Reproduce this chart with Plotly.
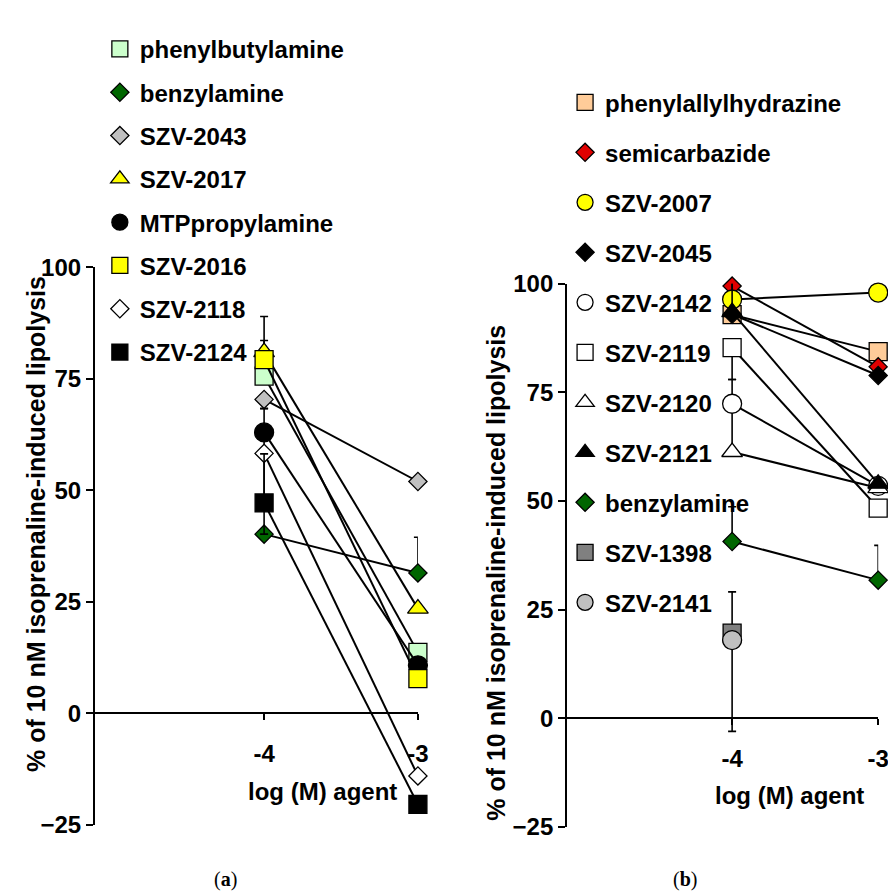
import plotly.graph_objects as go

# ---------------- data ----------------
x_vals = [-4, -3]

# panel (a)
a_names = ["phenylbutylamine", "benzylamine", "SZV-2043", "SZV-2017",
           "MTPpropylamine", "SZV-2016", "SZV-2118", "SZV-2124"]
a_y = [
    [75.6, 13.7],
    [40.2, 31.5],
    [70.4, 52.0],
    [81.0, 23.5],
    [63.0, 10.8],
    [79.3, 7.8],
    [58.3, -14.0],
    [47.2, -20.4],
]
a_err_plus = [[8.0, 0], [0, 8.0], [0, 0], [8.0, 0], [5.3, 0], [0, 0], [0, 0], [11.0, 0]]
a_err_minus = [[0, 0], [0, 0], [2.0, 0], [0, 0], [4.7, 0], [0, 0], [11.0, 0], [7.0, 0]]
a_symbols = ["square", "diamond", "diamond", "triangle-up", "circle", "square", "diamond", "square"]
a_colors = ["#CCFFCC", "#006600", "#C0C0C0", "#FFFF00", "#000000", "#FFFF00", "#FFFFFF", "#000000"]

# panel (b)
b_names = ["phenylallylhydrazine", "semicarbazide", "SZV-2007", "SZV-2045", "SZV-2142",
           "SZV-2119", "SZV-2120", "SZV-2121", "benzylamine", "SZV-1398", "SZV-2141"]
b_y = [
    [92.9, 84.4],
    [99.5, 80.9],
    [96.4, 98.0],
    [93.0, 78.9],
    [72.4, 53.5],
    [85.3, 48.4],
    [61.3, 53.0],
    [93.5, 54.0],
    [40.7, 31.8],
    [19.6, None],
    [18.0, None],
]
b_err_plus = [[0, 0], [10.0, 0], [16.0, 10.0], [8.7, 0], [5.6, 0], [0, 0], [0, 0], [0, 0],
              [8.0, 8.0], [9.5, 0], [0, 0]]
b_err_minus = [[0, 0], [0, 0], [0, 0], [0, 0], [11.0, 0], [7.3, 0], [0, 0], [0, 0],
               [0, 0], [0, 0], [21.0, 0]]
b_symbols = ["square", "diamond", "circle", "diamond", "circle", "square",
             "triangle-up", "triangle-up", "diamond", "square", "circle"]
b_colors = ["#FFCC99", "#E00000", "#FFFF00", "#000000", "#FFFFFF", "#FFFFFF",
            "#FFFFFF", "#000000", "#006600", "#808080", "#C0C0C0"]

y_ticks = [-25, 0, 25, 50, 75, 100]
x_ticks = [-4, -3]
x_ticklabels = ["-4", "-3"]

# ---------------- layout geometry ----------------
W, H = 896, 894
FONT = "Liberation Sans, Arial, sans-serif"
FS = 24

def px_x(p):
    return p / W

def px_y(p):
    return 1 - p / H

sizes = {"square": 18, "diamond": 14, "circle": 19, "triangle-up": 18}

fig = go.Figure()

def add_panel(names, ys, ep, em, symbols, colors, xa, ya, legend):
    for i, n in enumerate(names):
        fig.add_trace(go.Scatter(
            x=x_vals, y=ys[i], mode="lines+markers", name=n,
            xaxis=xa, yaxis=ya, showlegend=False, cliponaxis=False,
            line=dict(color="black", width=2),
            marker=dict(symbol=symbols[i], size=sizes[symbols[i]], color=colors[i],
                        line=dict(color="black", width=1.3)),
            error_y=dict(type="data", symmetric=False, array=ep[i], arrayminus=em[i],
                         color="black", thickness=1.6, width=4),
        ))
    for i, n in enumerate(names):
        fig.add_trace(go.Scatter(
            x=[None], y=[None], mode="markers", name=n, legend=legend,
            legendgroup=legend + str(i), xaxis=xa, yaxis=ya,
            marker=dict(symbol=symbols[i], size=sizes[symbols[i]], color=colors[i],
                        line=dict(color="black", width=1.3)),
        ))

add_panel(a_names, a_y, a_err_plus, a_err_minus, a_symbols, a_colors, "x", "y", "legend")
add_panel(b_names, b_y, b_err_plus, b_err_minus, b_symbols, b_colors, "x2", "y2", "legend2")

bold = dict(family=FONT, size=FS, color="black", weight="bold")
title_font = dict(family=FONT, size=25, color="black", weight="bold")

def xaxis_cfg(domain, rng, pos):
    return dict(domain=domain, range=rng, anchor="free", position=pos,
                tickvals=x_ticks, ticktext=x_ticklabels, showline=True, linecolor="black",
                linewidth=2, ticks="outside", ticklen=6, tickwidth=2, tickcolor="black",
                showgrid=False, zeroline=False, tickfont=bold, ticklabelstandoff=13,
                fixedrange=True)

def yaxis_cfg(domain, anchor):
    return dict(domain=domain, range=[-25, 100], anchor=anchor, tickvals=y_ticks,
                showline=True, linecolor="black", linewidth=2, ticks="outside", ticklen=7,
                tickwidth=2, tickcolor="black", showgrid=False, zeroline=False,
                tickfont=bold, fixedrange=True)

def note(text, x, y, font, angle=0):
    return dict(text=text, x=px_x(x), y=px_y(y), xref="paper", yref="paper",
                xanchor="center", yanchor="middle", showarrow=False,
                textangle=angle, font=font)

fig.update_layout(
    width=W, height=H, margin=dict(l=0, r=0, t=0, b=0),
    paper_bgcolor="white", plot_bgcolor="white",
    xaxis=xaxis_cfg([px_x(88), px_x(415)], [-5.1, -3], px_y(713)),
    yaxis=yaxis_cfg([px_y(828), px_y(253)], "x"),
    xaxis2=xaxis_cfg([px_x(566), px_x(881)], [-5.13, -3], px_y(718)),
    yaxis2=yaxis_cfg([px_y(830), px_y(270)], "x2"),
    legend=dict(x=px_x(93), y=px_y(5), xanchor="left", yanchor="top",
                traceorder="grouped", tracegroupgap=9.1, bgcolor="rgba(0,0,0,0)",
                font=bold, itemclick=False, itemdoubleclick=False),
    legend2=dict(x=px_x(564), y=px_y(60), xanchor="left", yanchor="top",
                 traceorder="grouped", tracegroupgap=15.8, bgcolor="rgba(0,0,0,0)",
                 font=bold, itemclick=False, itemdoubleclick=False),
    annotations=[
        note("% of 10 nM isoprenaline-induced lipolysis", 29, 518, title_font, -90),
        note("% of 10 nM isoprenaline-induced lipolysis", 494, 568, title_font, -90),
        note("log (M) agent", 318, 793, bold),
        note("log (M) agent", 791, 798, bold),
        note("(<b>a</b>)", 220, 884, dict(family="Liberation Serif, serif", size=20, color="black")),
        note("(<b>b</b>)", 685, 884, dict(family="Liberation Serif, serif", size=20, color="black")),
    ],
)

fig.write_html("out.html")
